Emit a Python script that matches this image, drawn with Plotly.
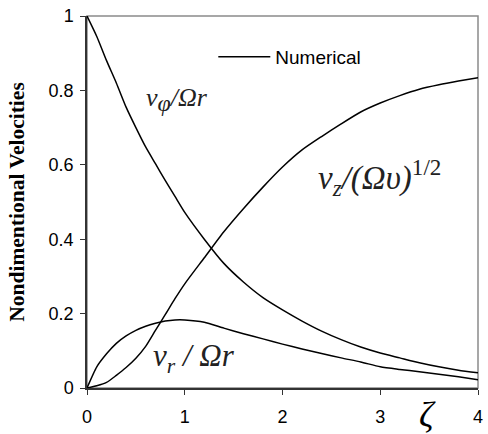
import plotly.graph_objects as go

# nondimensional distance from the disk
zeta = [0, 0.1, 0.2, 0.3, 0.4, 0.5, 0.6, 0.7, 0.8, 0.9, 1.0, 1.2, 1.4, 1.6, 1.8,
        2.0, 2.2, 2.4, 2.6, 2.8, 3.0, 3.2, 3.4, 3.6, 3.8, 4.0]

# tangential velocity v_phi / (Omega r)
v_phi = [1.000, 0.945, 0.880, 0.820, 0.755, 0.700, 0.648, 0.603, 0.558, 0.515, 0.472,
         0.400, 0.335, 0.285, 0.243, 0.210, 0.180, 0.153, 0.130, 0.110, 0.094,
         0.081, 0.068, 0.057, 0.048, 0.041]

# radial velocity v_r / (Omega r)
v_r = [0, 0.057, 0.092, 0.120, 0.140, 0.155, 0.166, 0.174, 0.180, 0.183, 0.183,
       0.177, 0.161, 0.146, 0.132, 0.118, 0.105, 0.093, 0.081, 0.070, 0.057,
       0.050, 0.044, 0.037, 0.030, 0.022]

# axial velocity v_z / (Omega nu)^1/2
v_z = [0, 0.006, 0.015, 0.034, 0.055, 0.080, 0.112, 0.155, 0.197, 0.240, 0.280,
       0.350, 0.420, 0.482, 0.540, 0.594, 0.640, 0.676, 0.710, 0.742, 0.766,
       0.786, 0.803, 0.815, 0.825, 0.834]

x_ticks = [0, 1, 2, 3, 4]
y_ticks = [0, 0.2, 0.4, 0.6, 0.8, 1]
y_tick_text = ['0', '0.2', '0.4', '0.6', '0.8', '1']

line_style = dict(color='black', width=1.5, shape='spline', smoothing=0.6)

fig = go.Figure()
fig.add_trace(go.Scatter(x=zeta, y=v_phi, mode='lines', line=line_style,
                         name='Numerical', showlegend=True))
fig.add_trace(go.Scatter(x=zeta, y=v_r, mode='lines', line=line_style, showlegend=False))
fig.add_trace(go.Scatter(x=zeta, y=v_z, mode='lines', line=line_style, showlegend=False))

serif = dict(family='Liberation Serif', color='#222222')

fig.add_annotation(x=0.586, y=0.775, xref='x', yref='y', xanchor='left', yanchor='middle',
                   text='<i>v</i><sub><i><span style="font-size:24px">φ</span></i></sub><i>/Ωr</i>',
                   showarrow=False, font=dict(size=26, **serif))
fig.add_annotation(x=0.657, y=0.08, xref='x', yref='y', xanchor='left', yanchor='middle',
                   text='<i>v</i><sub><i>r</i></sub><i> / Ωr</i>', showarrow=False,
                   font=dict(size=31, **serif))
fig.add_annotation(x=2.34, y=0.565, xref='x', yref='y', xanchor='left', yanchor='middle',
                   text='<i>v</i><sub><i>z</i></sub><i>/(Ωυ)</i><sup>1/2</sup>', showarrow=False,
                   font=dict(size=33, **serif))
fig.add_annotation(x=3.48, y=-0.072, xref='x', yref='paper', xanchor='center', yanchor='middle',
                   text='<i>ζ</i>', showarrow=False,
                   font=dict(size=36, family='Liberation Serif', color='black'))

# grey plot-area frame (Excel style)
fig.add_shape(type='rect', xref='paper', yref='paper', x0=0, y0=0, x1=1, y1=1,
              line=dict(color='#8a8a8a', width=1.5), layer='below')

fig.update_layout(
    width=488, height=434,
    margin=dict(l=87, r=5, t=16, b=46),
    paper_bgcolor='white', plot_bgcolor='white',
    font=dict(family='Liberation Sans', color='black'),
    showlegend=True,
    legend=dict(x=0.323, y=0.89, xanchor='left', yanchor='middle', itemwidth=52,
                bgcolor='rgba(0,0,0,0)', font=dict(size=19, family='Liberation Sans')),
    xaxis=dict(range=[0, 4], tickvals=x_ticks, showgrid=False, zeroline=False,
               showline=True, linecolor='#333333', linewidth=1.5,
               ticks='outside', ticklen=5, tickcolor='#333333',
               tickfont=dict(size=18, color='black'), ticklabelstandoff=7,
               ticklabeloverflow='allow'),
    yaxis=dict(range=[0, 1], tickvals=y_ticks, ticktext=y_tick_text, showgrid=False,
               zeroline=False, showline=True, linecolor='#333333', linewidth=1.5,
               ticks='outside', ticklen=5, tickcolor='#333333',
               tickfont=dict(size=18, color='black'), ticklabelstandoff=3,
               title=dict(text='<b>Nondimentional Velocities</b>', standoff=18,
                          font=dict(size=21.5, family='Liberation Serif', color='black'))),
)

# drop the page's default body margin so the figure sits at the window corner
fig.write_html("out.html", config={'displayModeBar': False},
               post_script="document.body.style.margin='0';")
